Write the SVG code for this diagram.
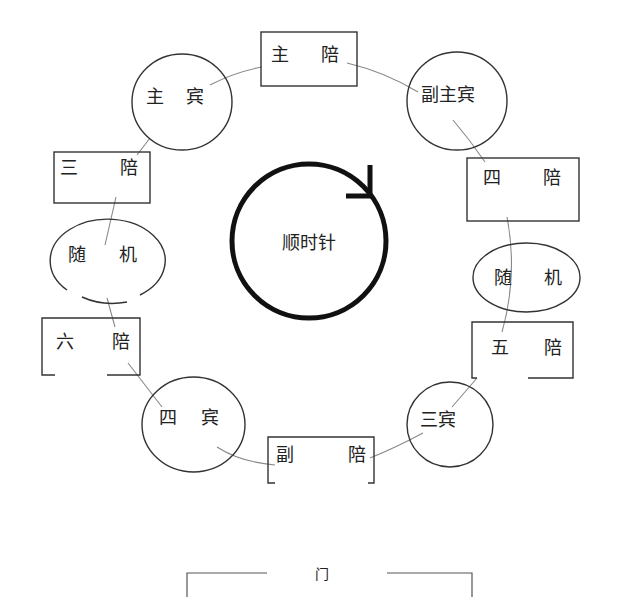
<svg xmlns="http://www.w3.org/2000/svg" width="640" height="597" viewBox="0 0 640 597">
<style>
.n{fill:none;stroke:#333;stroke-width:1.4}
.c{fill:none;stroke:#888;stroke-width:1.1}
text{font-family:"Noto Sans CJK SC","Noto Sans CJK JP",sans-serif;font-size:18px;fill:#222;text-anchor:middle}
</style>
<rect width="640" height="597" fill="#fff"/>
<g id="connectors">
<path class="c" d="M210,85 Q235,72 262,67"/>
<path class="c" d="M347,63 Q385,72 418,92"/>
<path class="c" d="M453,120 Q470,140 485,162"/>
<path class="c" d="M507,217 Q518,275 502,332"/>
<path class="c" d="M477,378 L452,407"/>
<path class="c" d="M423,433 Q395,448 370,458"/>
<path class="c" d="M275,465 Q240,462 217,447"/>
<path class="c" d="M162,407 L128,363"/>
<path class="c" d="M115,327 L107,298"/>
<path class="c" d="M105,245 L116,197"/>
<path class="c" d="M137,155 L150,138"/>
</g>
<g id="clockwise">
<circle cx="309" cy="241" r="77" fill="none" stroke="#111" stroke-width="5"/>
<path d="M370,165 L370,195 M346,196 L372,196" fill="none" stroke="#111" stroke-width="5"/>
<text x="309" y="249">顺时针</text>
</g>
<g id="zhupei"><rect class="n" x="261" y="32" width="96" height="54"/><text x="280" y="61">主</text><text x="330" y="61">陪</text></g>
<g id="zhubin"><ellipse class="n" cx="182" cy="102" rx="50" ry="48"/><text x="155" y="103">主</text><text x="195" y="103">宾</text></g>
<g id="fuzhubin"><ellipse class="n" cx="457" cy="101" rx="50" ry="49"/><text x="448" y="101">副主宾</text></g>
<g id="sanpei"><rect class="n" x="54" y="152" width="96" height="51"/><text x="69" y="174">三</text><text x="129" y="174">陪</text></g>
<g id="sipei"><rect class="n" x="467" y="158" width="112" height="63"/><text x="492" y="184">四</text><text x="552" y="184">陪</text></g>
<g id="suiji-left"><path class="n" d="M67,290 A57.5,41.5 0 1 1 140,295 M127,302 A57.5,41.5 0 0 1 82,297"/><text x="77" y="261">随</text><text x="128" y="261">机</text></g>
<g id="suiji-right"><ellipse class="n" cx="526.5" cy="277.5" rx="53.5" ry="34.5"/><text x="503" y="284">随</text><text x="553" y="284">机</text></g>
<g id="liupei"><path class="n" d="M55,375 L42,375 L42,318 L140,318 L140,375 L107,375"/><text x="65" y="348">六</text><text x="121" y="348">陪</text></g>
<g id="wupei"><path class="n" d="M477,378 L472,378 L472,322 L573,322 L573,378 L528,378"/><text x="500" y="354">五</text><text x="553" y="354">陪</text></g>
<g id="sibin"><ellipse class="n" cx="193.5" cy="424.5" rx="51.5" ry="47.5"/><text x="168" y="424">四</text><text x="210" y="424">宾</text></g>
<g id="sanbin"><ellipse class="n" cx="450" cy="424.5" rx="43" ry="42.5"/><text x="438" y="426">三宾</text></g>
<g id="fupei"><path class="n" d="M275,483 L268,483 L268,437 L374,437 L374,483 L368,483"/><text x="285" y="461">副</text><text x="357" y="461">陪</text></g>
<g id="door"><path class="n" d="M187,597 L187,573 L267,573 M387,573 L472,573 L472,597" style="stroke:#555;stroke-width:1.2"/><text x="322" y="579" style="font-size:14px">门</text></g>
</svg>
